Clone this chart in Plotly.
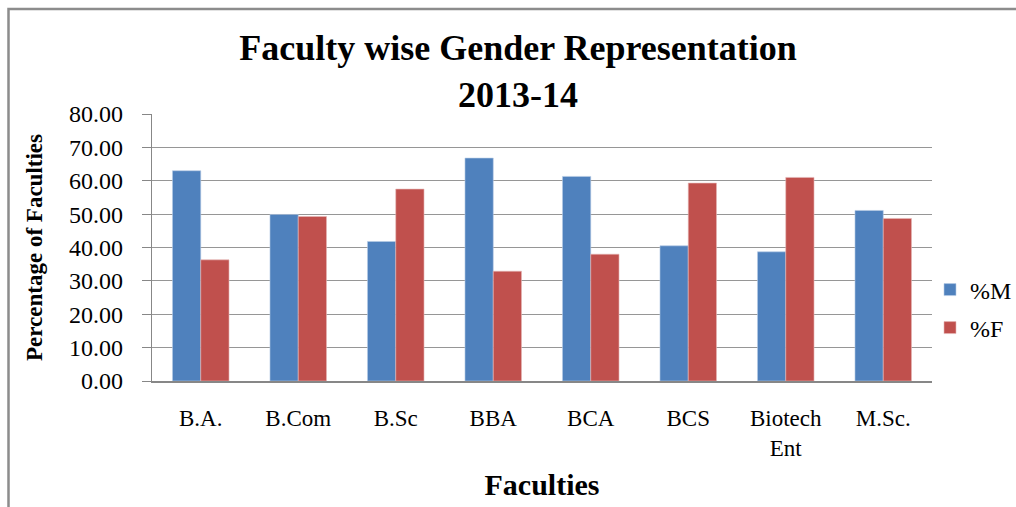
import plotly.graph_objects as go

categories = ["B.A.", "B.Com", "B.Sc", "BBA", "BCA", "BCS", "Biotech<br>Ent", "M.Sc."]
male_pct = [63.0, 49.9, 41.8, 66.8, 61.3, 40.5, 38.7, 51.1]
female_pct = [36.3, 49.3, 57.5, 32.9, 38.0, 59.3, 61.0, 48.7]
y_ticks = [0, 10, 20, 30, 40, 50, 60, 70, 80]

FONT = "Liberation Serif, Times New Roman, serif"

L, R, T, B = 152, 84, 114, 126
W, H = 1016, 507
pw, ph = W - L - R, H - T - B

def px_x(x):
    return (x - L) / pw

def px_y(y):
    return 1 - (y - T) / ph

fig = go.Figure()
fig.add_trace(go.Bar(x=categories, y=male_pct, name="%M", legend="legend", showlegend=True,
                     marker=dict(color="#4F81BD", line=dict(color="#B9CDE5", width=0.6))))
fig.add_trace(go.Bar(x=categories, y=female_pct, name="%F", legend="legend2", showlegend=True,
                     marker=dict(color="#C0504D", line=dict(color="#E6B9B8", width=0.6))))

legend_style = dict(xanchor="left", yanchor="middle", visible=True,
                    font=dict(size=24, family=FONT), bgcolor="rgba(0,0,0,0)",
                    itemwidth=30)

fig.update_layout(
    width=W, height=H,
    showlegend=True,
    margin=dict(l=L, r=R, t=T, b=B, pad=0, autoexpand=False),
    paper_bgcolor="white", plot_bgcolor="white",
    barmode="group", bargap=0.42, bargroupgap=0,
    font=dict(family=FONT, color="black"),
    title=dict(text="<b>Faculty wise Gender Representation<br>2013-14</b>",
               x=px_x(518), xref="paper", xanchor="center",
               y=1 - 60 / H, yanchor="middle",
               font=dict(size=36, family=FONT, color="black")),
    legend=dict(x=px_x(930), y=px_y(290), **legend_style),
    legend2=dict(x=px_x(930), y=px_y(328), **legend_style),
    xaxis=dict(showline=True, linecolor="#878787", linewidth=1.5,
               ticks="", ticklabelstandoff=16,
               tickfont=dict(size=23, family=FONT),
               title=dict(text="<b>Faculties</b>", font=dict(size=30, family=FONT), standoff=14)),
    yaxis=dict(range=[0, 80], tickvals=y_ticks, tickformat=".2f",
               showgrid=True, gridcolor="#969696", gridwidth=1.2,
               showline=True, linecolor="#878787", linewidth=1.2,
               ticks="outside", ticklen=9, tickcolor="#878787",
               ticklabelstandoff=14,
               tickfont=dict(size=24, family=FONT),
               title=dict(text="<b>Percentage of Faculties</b>", font=dict(size=23, family=FONT), standoff=20)),
    shapes=[dict(type="path", xref="paper", yref="paper",
                 path=f"M {px_x(8.5)} {px_y(600)} L {px_x(8.5)} {px_y(9)} L {px_x(1100)} {px_y(9)}",
                 line=dict(color="#8C8C8C", width=2.5))],
)

fig.write_html("out.html", config={"displayModeBar": False},
               post_script="document.body.style.margin='0';document.body.style.overflow='hidden';")
